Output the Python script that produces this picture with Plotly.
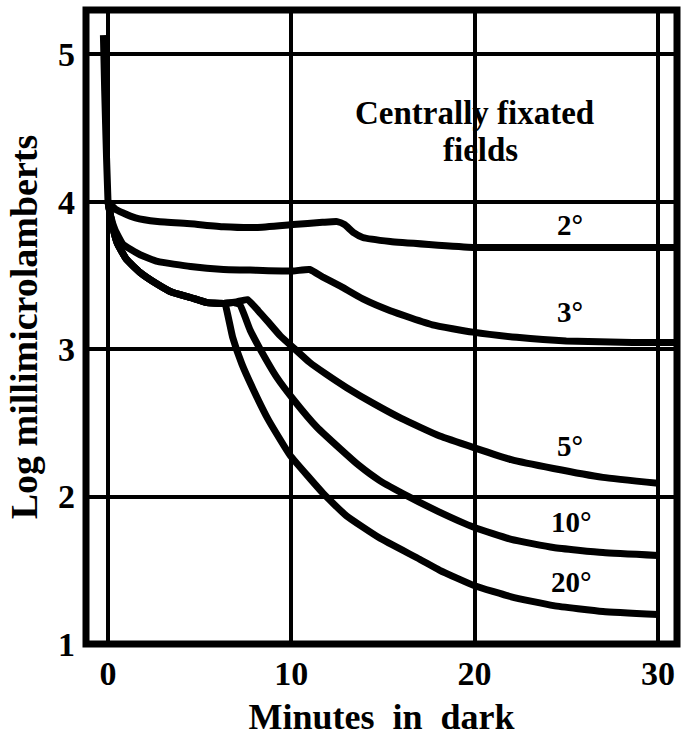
import plotly.graph_objects as go

# ---------------- data ----------------
# initial cone bleach spike at t = 0
spike_time = [-0.25, -0.18, -0.08, 0.0]
spike_log = [5.13, 4.75, 4.30, 4.00]

time_2deg = [0.0, 0.4, 0.8, 1.5, 2.7, 4.5, 6.3, 8.1, 10.1, 11.7, 12.5, 12.9, 13.4,
             13.9, 15.4, 17.5, 19.9, 22.5, 25.0, 28.0, 31.1]
log_2deg = [4.00, 3.95, 3.925, 3.89, 3.865, 3.85, 3.83, 3.825, 3.845, 3.86, 3.865,
            3.845, 3.79, 3.757, 3.73, 3.71, 3.69, 3.69, 3.69, 3.69, 3.69]

time_3deg = [0.0, 0.15, 0.38, 0.82, 1.75, 2.7, 4.5, 6.3, 8.1, 10.1, 11.0, 11.7, 12.7,
             13.9, 15.4, 17.7, 19.9, 22.3, 25.0, 28.6, 31.1]
log_3deg = [4.00, 3.90, 3.81, 3.71, 3.64, 3.595, 3.56, 3.54, 3.535, 3.53, 3.54, 3.49,
            3.425, 3.34, 3.26, 3.165, 3.115, 3.08, 3.055, 3.045, 3.045]

# shared early part of the larger fields
rod_time = [0.0, 0.2, 0.5, 1.0, 1.75, 2.7, 3.5, 4.5, 5.4, 6.3]
rod_log = [4.00, 3.86, 3.72, 3.61, 3.52, 3.44, 3.385, 3.35, 3.315, 3.31]

time_5deg_tail = [7.0, 7.6, 8.2, 8.7, 9.4, 10.2, 11.0, 11.9, 13.0, 14.5, 16.0, 18.1,
                  20.0, 22.0, 24.3, 27.0, 30.0]
log_5deg_tail = [3.32, 3.335, 3.26, 3.19, 3.09, 3.00, 2.91, 2.83, 2.74, 2.63, 2.53, 2.41,
                 2.33, 2.25, 2.19, 2.13, 2.09]

time_10deg_tail = [6.9, 7.2, 7.75, 8.3, 9.2, 10.2, 11.4, 12.7, 13.7, 14.8, 16.4, 18.0,
                   20.0, 22.0, 24.3, 27.0, 30.0]
log_10deg_tail = [3.315, 3.30, 3.13, 3.00, 2.81, 2.645, 2.47, 2.32, 2.21, 2.11, 2.00, 1.90,
                  1.79, 1.71, 1.655, 1.62, 1.60]

time_20deg_tail = [6.4, 6.8, 7.3, 7.93, 8.75, 9.93, 11.0, 11.75, 13.0, 14.8, 17.0, 18.1,
                   20.0, 22.0, 24.3, 27.0, 30.0]
log_20deg_tail = [3.30, 3.08, 2.90, 2.725, 2.52, 2.28, 2.125, 2.02, 1.87, 1.72, 1.575, 1.50,
                  1.395, 1.32, 1.26, 1.22, 1.20]

field_labels = ["2°", "3°", "5°", "10°", "20°"]
label_time = [25.2, 25.2, 25.2, 25.3, 25.3]
label_log = [3.84, 3.25, 2.345, 1.83, 1.42]

x_ticks = [0, 10, 20, 30]
y_ticks = [1, 2, 3, 4, 5]

# ---------------- figure ----------------
FONT = "Liberation Serif"
LW = 7


def rod_curve(tail_t, tail_y):
    t = [v for v in rod_time if v < tail_t[0]] + tail_t
    y = [rod_log[i] for i, v in enumerate(rod_time) if v < tail_t[0]] + tail_y
    return t, y


fig = go.Figure()

curves = [
    (spike_time, spike_log),
    (time_2deg, log_2deg),
    (time_3deg, log_3deg),
    rod_curve(time_5deg_tail, log_5deg_tail),
    rod_curve(time_10deg_tail, log_10deg_tail),
    rod_curve(time_20deg_tail, log_20deg_tail),
]
for t, y in curves:
    fig.add_trace(go.Scatter(
        x=t, y=y, mode="lines",
        line=dict(color="black", width=LW, shape="spline", smoothing=0.4),
        showlegend=False, hoverinfo="skip",
    ))

for txt, tx, ty in zip(field_labels, label_time, label_log):
    fig.add_annotation(x=tx, y=ty, text=txt, showarrow=False,
                       font=dict(family=FONT, size=29, color="black", weight="bold"))

fig.add_annotation(x=20.0, y=4.60, text="Centrally fixated", showarrow=False,
                   font=dict(family=FONT, size=33, color="black", weight="bold"))
fig.add_annotation(x=20.3, y=4.35, text="fields", showarrow=False,
                   font=dict(family=FONT, size=33, color="black", weight="bold"))

# frame
fig.add_shape(type="rect", xref="paper", yref="paper", x0=0, x1=1, y0=0, y1=1,
              line=dict(color="black", width=7), layer="above")

fig.update_xaxes(
    range=[-1.2, 31.04], tickvals=x_ticks, ticktext=[str(v) for v in x_ticks],
    showgrid=True, gridcolor="black", gridwidth=4, zeroline=False,
    showline=False, ticks="", ticklabelstandoff=6, automargin=False,
    tickfont=dict(family=FONT, size=34, color="black", weight="bold"),
    title=dict(text="Minutes\u00a0 in\u00a0 dark", standoff=14,
               font=dict(family=FONT, size=36, color="black", weight="bold")),
)
fig.update_yaxes(
    range=[1.0, 5.30], tickvals=y_ticks, ticktext=[str(v) for v in y_ticks],
    showgrid=True, gridcolor="black", gridwidth=4, zeroline=False,
    showline=False, ticks="", ticklabelstandoff=10, automargin=False,
    tickfont=dict(family=FONT, size=34, color="black", weight="bold"),
    title=dict(text="Log millimicrolamberts", standoff=8,
               font=dict(family=FONT, size=38, color="black", weight="bold")),
)

fig.update_layout(
    width=681, height=737,
    margin=dict(l=86, r=4, t=10, b=93, autoexpand=False),
    paper_bgcolor="white", plot_bgcolor="white",
)

fig.write_html("out.html", config={"displayModeBar": False},
               post_script="document.body.style.margin='0';")
